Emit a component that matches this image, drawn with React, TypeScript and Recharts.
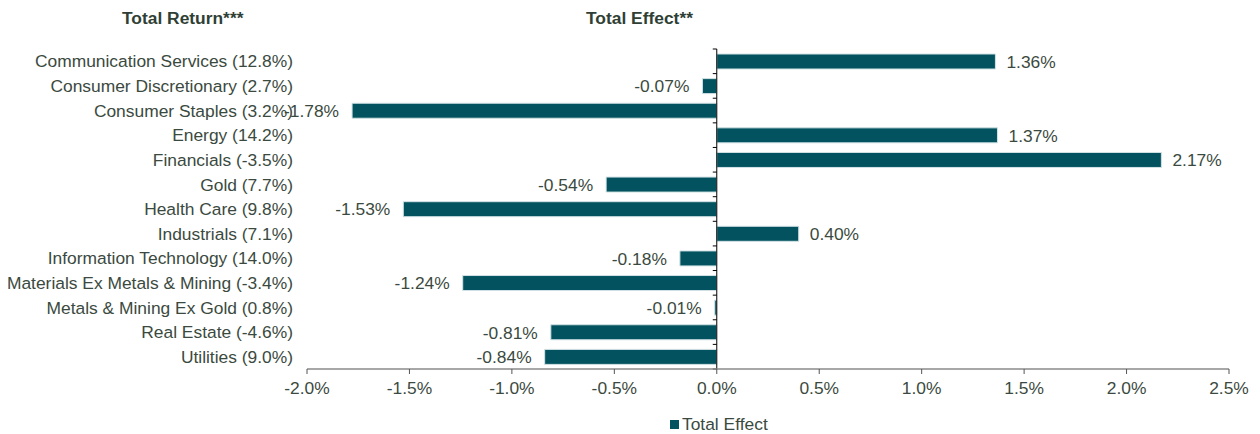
import React from 'react'
import { BarChart, Bar, XAxis, YAxis, ReferenceLine, LabelList, Legend } from 'recharts'

const sectors = [
  'Communication Services',
  'Consumer Discretionary',
  'Consumer Staples',
  'Energy',
  'Financials',
  'Gold',
  'Health Care',
  'Industrials',
  'Information Technology',
  'Materials Ex Metals & Mining',
  'Metals & Mining Ex Gold',
  'Real Estate',
  'Utilities',
]

const totalReturn = ['12.8', '2.7', '3.2', '14.2', '-3.5', '7.7', '9.8', '7.1', '14.0', '-3.4', '0.8', '-4.6', '9.0']

const totalEffect = [1.36, -0.07, -1.78, 1.37, 2.17, -0.54, -1.53, 0.4, -0.18, -1.24, -0.01, -0.81, -0.84]

const xTicks = [-2.0, -1.5, -1.0, -0.5, 0.0, 0.5, 1.0, 1.5, 2.0, 2.5]

const chartData = sectors.map((s, i) => ({
  label: `${s} (${totalReturn[i]}%)`,
  effect: totalEffect[i],
}))

const FONT = '"Liberation Sans", Arial, sans-serif'
const FS = 17.4
const TEXT = '#3b4a40'
const TITLE = '#2f3f35'
const BAR = '#02535f'

// zero line with little ticks at the category boundaries, like the Excel original
function ZeroAxis(props: any) {
  const { x1, y1, x2, y2 } = props
  const n = sectors.length
  const step = (y2 - y1) / n
  const ticks = []
  for (let i = 0; i <= n; i++) {
    const y = y1 + step * i
    ticks.push(<line key={i} x1={x1 - 4} x2={x1} y1={y} y2={y} stroke="#000" strokeWidth={1} />)
  }
  return (
    <g>
      <line x1={x1} y1={y1} x2={x2} y2={y2} stroke="#000" strokeWidth={1} />
      {ticks}
    </g>
  )
}

function ValueLabel(props: any) {
  const { x, y, width, height, value } = props
  if (value === undefined) return null
  const left = Math.min(x, x + width)
  const right = Math.max(x, x + width)
  const neg = value < 0
  return (
    <text
      x={neg ? left - 13 : right + 11}
      y={y + height / 2}
      dy="0.36em"
      textAnchor={neg ? 'end' : 'start'}
      fill={TEXT}
      fontSize={FS}
      fontFamily={FONT}
    >
      {value.toFixed(2)}%
    </text>
  )
}

function LegendContent(props: any) {
  const { payload } = props
  return (
    <div style={{ display: 'flex', alignItems: 'center', fontFamily: FONT, fontSize: FS, color: TEXT, lineHeight: '20px' }}>
      {(payload || []).map((p: any) => (
        <span key={p.value} style={{ display: 'flex', alignItems: 'center' }}>
          <span style={{ display: 'inline-block', width: 9, height: 9, background: BAR, marginRight: 3 }} />
          {p.value}
        </span>
      ))}
    </div>
  )
}

export default function App() {
  return (
    <div style={{ position: 'absolute', left: 0, top: 0, width: 1260, height: 434, fontFamily: FONT, background: '#fff' }}>
      <div style={{ position: 'absolute', left: 122, top: 7, fontSize: FS, fontWeight: 'bold', color: TITLE, lineHeight: '22px' }}>
        Total Return***
      </div>
      <div style={{ position: 'absolute', left: 586, top: 7, fontSize: FS, fontWeight: 'bold', color: TITLE, lineHeight: '22px' }}>
        Total Effect**
      </div>
      <BarChart
        width={1260}
        height={434}
        data={chartData}
        layout="vertical"
        margin={{ top: 49, right: 31, bottom: 35, left: 0 }}
        barSize={15}
      >
        <XAxis
          type="number"
          domain={[-2, 2.5]}
          ticks={xTicks}
          interval={0}
          height={30}
          tickFormatter={(v: number) => `${v.toFixed(1)}%`}
          axisLine={{ stroke: '#8a8a8a', strokeWidth: 1.5 }}
          tickLine={{ stroke: '#555' }}
          tickSize={5}
          tickMargin={8}
          tick={{ fill: TEXT, fontSize: FS, fontFamily: FONT }}
        />
        <YAxis
          type="category"
          dataKey="label"
          width={307}
          axisLine={false}
          tickLine={false}
          tickSize={0}
          tickMargin={14}
          interval={0}
          tick={{ fill: TEXT, fontSize: FS, fontFamily: FONT }}
        />
        <Legend
          layout="horizontal"
          verticalAlign="middle"
          align="center"
          wrapperStyle={{ top: 414, left: 670, width: 'auto' }}
          content={<LegendContent />}
        />
        <Bar dataKey="effect" name="Total Effect" fill={BAR} stroke="#d3e2e5" strokeWidth={1} isAnimationActive={false}>
          <LabelList dataKey="effect" content={<ValueLabel />} />
        </Bar>
        <ReferenceLine x={0} shape={<ZeroAxis />} />
      </BarChart>
    </div>
  )
}
